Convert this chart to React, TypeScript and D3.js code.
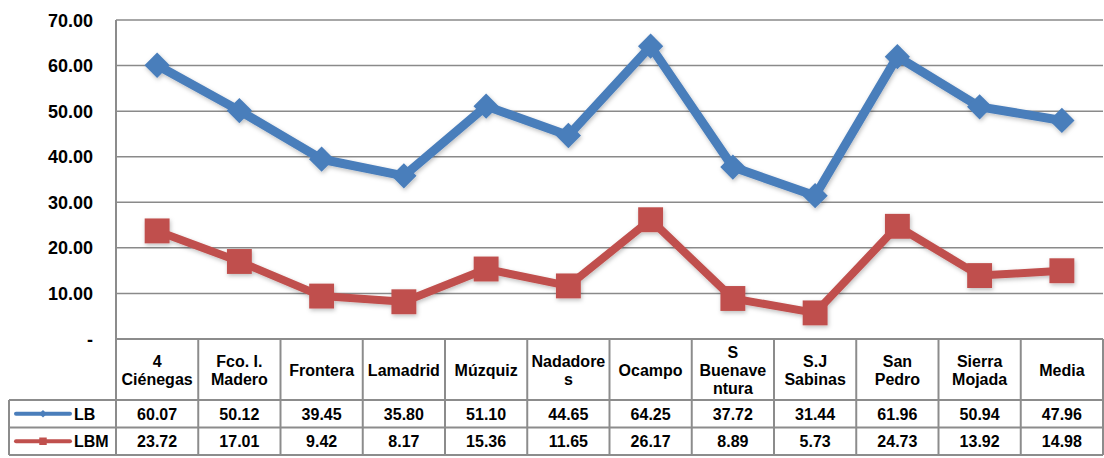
import { useEffect, useRef } from 'react'
import * as d3 from 'd3'

const categories = [
  ['4', 'Ciénegas'],
  ['Fco. I.', 'Madero'],
  ['Frontera'],
  ['Lamadrid'],
  ['Múzquiz'],
  ['Nadadore', 's'],
  ['Ocampo'],
  ['S', 'Buenave', 'ntura'],
  ['S.J', 'Sabinas'],
  ['San', 'Pedro'],
  ['Sierra', 'Mojada'],
  ['Media'],
]
const lbValues = [60.07, 50.12, 39.45, 35.8, 51.1, 44.65, 64.25, 37.72, 31.44, 61.96, 50.94, 47.96]
const lbmValues = [23.72, 17.01, 9.42, 8.17, 15.36, 11.65, 26.17, 8.89, 5.73, 24.73, 13.92, 14.98]
const yTicks = [0, 10, 20, 30, 40, 50, 60, 70]

const series = [
  { name: 'LB', values: lbValues, color: '#4a7ebb', marker: 'diamond' },
  { name: 'LBM', values: lbmValues, color: '#c0504d', marker: 'square' },
]

export default function App() {
  const svgRef = useRef<SVGSVGElement>(null)

  useEffect(() => {
    const width = 1104
    const height = 458
    const left = 116
    const right = 1103
    const top = 20
    const zeroY = 339
    const headerBottom = 400
    const rowH = 27.5
    const tableLeft = 9

    const svg = d3.select(svgRef.current)
    svg.selectAll('*').remove()
    svg.attr('width', width).attr('height', height)

    const x = d3.scaleBand<number>()
      .domain(d3.range(categories.length))
      .range([left, right])
    const y = d3.scaleLinear().domain([0, 70]).range([zeroY, top])

    const font = 'Arial, "Liberation Sans", sans-serif'

    // líneas de cuadrícula
    svg.append('g')
      .selectAll('line')
      .data(yTicks.filter(t => t > 0))
      .enter()
      .append('line')
      .attr('x1', left)
      .attr('x2', right)
      .attr('y1', d => y(d))
      .attr('y2', d => y(d))
      .attr('stroke', '#8a8a8a')
      .attr('stroke-width', 1.5)

    // etiquetas del eje y
    svg.append('g')
      .selectAll('text')
      .data(yTicks)
      .enter()
      .append('text')
      .attr('x', 93)
      .attr('y', d => y(d) + 6.5)
      .attr('text-anchor', 'end')
      .attr('font-family', font)
      .attr('font-weight', 'bold')
      .attr('font-size', 18)
      .attr('fill', '#000')
      .text(d => d === 0 ? '-' : d.toFixed(2))

    // tabla de datos
    const tg = svg.append('g').attr('stroke', '#8c8c8c').attr('stroke-width', 2).attr('fill', 'none')
    const tableBottom = headerBottom + rowH * 2
    tg.append('line').attr('x1', left).attr('x2', left).attr('y1', top).attr('y2', tableBottom)
    tg.append('line').attr('x1', left).attr('x2', right).attr('y1', zeroY).attr('y2', zeroY)
    tg.append('line').attr('x1', right).attr('x2', right).attr('y1', zeroY).attr('y2', tableBottom)
    d3.range(1, categories.length).forEach(i => {
      const xx = x(i)!
      tg.append('line').attr('x1', xx).attr('x2', xx).attr('y1', zeroY).attr('y2', tableBottom)
    })
    ;[headerBottom, headerBottom + rowH, tableBottom].forEach(yy => {
      tg.append('line').attr('x1', tableLeft).attr('x2', right).attr('y1', yy).attr('y2', yy)
    })
    tg.append('line').attr('x1', tableLeft).attr('x2', tableLeft).attr('y1', headerBottom).attr('y2', tableBottom)

    // encabezados
    const header = svg.append('g')
      .attr('font-family', font)
      .attr('font-weight', 'bold')
      .attr('font-size', 16)
      .attr('text-anchor', 'middle')
    categories.forEach((lines, i) => {
      const cx = x(i)! + x.bandwidth() / 2
      const cy = (zeroY + headerBottom) / 2
      const lh = 18
      const t = header.append('text').attr('x', cx)
      lines.forEach((ln, j) => {
        t.append('tspan')
          .attr('x', cx)
          .attr('y', cy + (j - (lines.length - 1) / 2) * lh + 6)
          .text(ln)
      })
    })

    const markerPath = (size: number) => d3.symbol().type(d3.symbolSquare).size(size)()

    // filas de valores + leyenda
    series.forEach((s, si) => {
      const rowTop = headerBottom + si * rowH
      const cy = rowTop + rowH / 2
      svg.append('g')
        .attr('font-family', font)
        .attr('font-weight', 'bold')
        .attr('font-size', 16)
        .attr('text-anchor', 'middle')
        .selectAll('text')
        .data(s.values)
        .enter()
        .append('text')
        .attr('x', (d, i) => x(i)! + x.bandwidth() / 2)
        .attr('y', cy + 6)
        .text(d => d.toFixed(2))

      const key = svg.append('g')
      key.append('line')
        .attr('x1', 16).attr('x2', 70).attr('y1', cy).attr('y2', cy)
        .attr('stroke', s.color).attr('stroke-width', 4).attr('stroke-linecap', 'round')
      key.append('path')
        .attr('d', markerPath(s.marker === 'diamond' ? 30 : 56))
        .attr('transform', `translate(43,${cy}) rotate(${s.marker === 'diamond' ? 45 : 0})`)
        .attr('fill', s.color)
      key.append('text')
        .attr('x', 74).attr('y', cy + 6)
        .attr('font-family', font).attr('font-weight', 'bold').attr('font-size', 16)
        .text(s.name)
    })

    // líneas de las series
    const line = d3.line<number>()
      .x((d, i) => x(i)! + x.bandwidth() / 2)
      .y(d => y(d))

    const defs = svg.append('defs')
    const filter = defs.append('filter').attr('id', 'shadow').attr('x', '-50%').attr('y', '-50%').attr('width', '200%').attr('height', '200%')
    filter.append('feDropShadow').attr('dx', 1).attr('dy', 2).attr('stdDeviation', 2).attr('flood-color', '#000').attr('flood-opacity', 0.25)

    series.forEach(s => {
      const g = svg.append('g').attr('filter', 'url(#shadow)')
      g.append('path')
        .datum(s.values)
        .attr('d', line)
        .attr('fill', 'none')
        .attr('stroke', s.color)
        .attr('stroke-width', s.marker === 'diamond' ? 9 : 8)
        .attr('stroke-linejoin', 'round')
      g.selectAll('.m')
        .data(s.values)
        .enter()
        .append('path')
        .attr('d', markerPath(s.marker === 'diamond' ? 320 : 620))
        .attr('transform', (d, i) => `translate(${x(i)! + x.bandwidth() / 2},${y(d)}) rotate(${s.marker === 'diamond' ? 45 : 0})`)
        .attr('fill', s.color)
    })
  }, [])

  return (
    <div style={{ position: 'absolute', left: 0, top: 0, width: 1104, height: 458, background: '#fff', overflow: 'hidden' }}>
      <svg ref={svgRef} style={{ display: 'block' }}></svg>
    </div>
  )
}
